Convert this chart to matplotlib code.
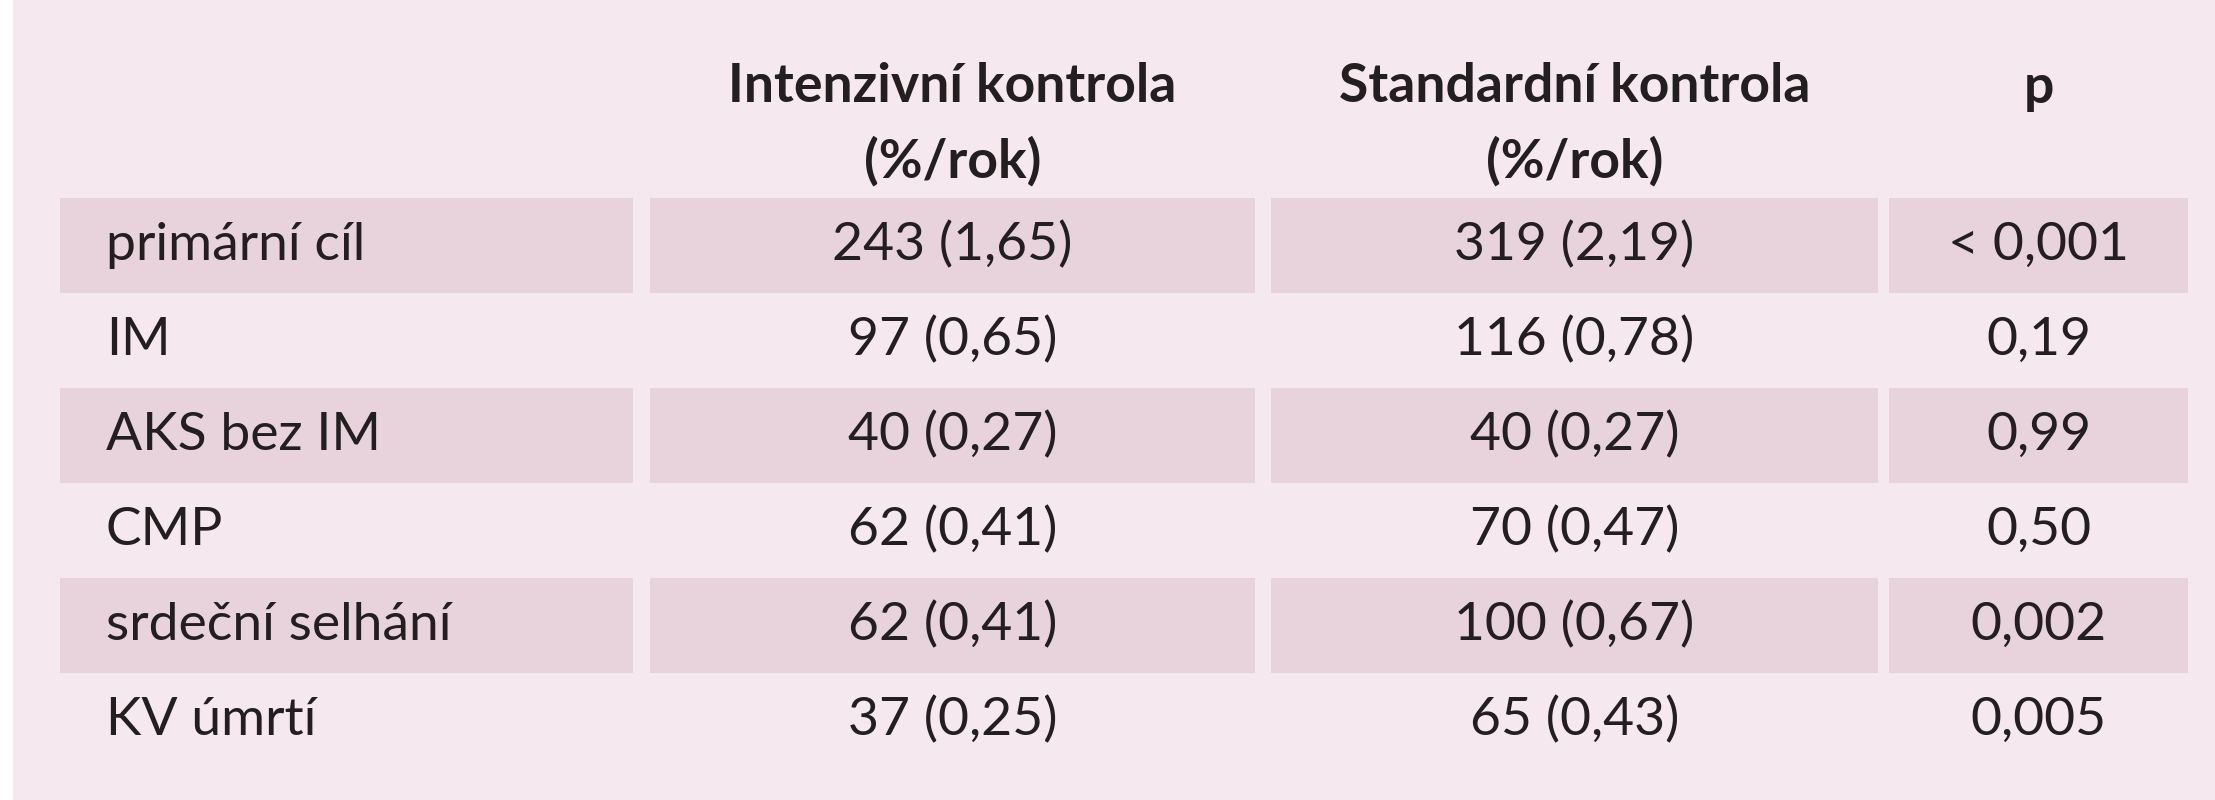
import matplotlib
matplotlib.use("Agg")
import matplotlib.pyplot as plt
from matplotlib.patches import Rectangle

headers = ["", "Intenzivní kontrola\n(%/rok)", "Standardní kontrola\n(%/rok)", "p"]
rows = ["primární cíl", "IM", "AKS bez IM", "CMP", "srdeční selhání", "KV úmrtí"]
intenzivni = ["243 (1,65)", "97 (0,65)", "40 (0,27)", "62 (0,41)", "62 (0,41)", "37 (0,25)"]
standardni = ["319 (2,19)", "116 (0,78)", "40 (0,27)", "70 (0,47)", "100 (0,67)", "65 (0,43)"]
p_values = ["< 0,001", "0,19", "0,99", "0,50", "0,002", "0,005"]

BG = "#f5e8ee"
SHADE = "#e8d3dc"
TXT = "#231f20"
FONT = ["Lato", "DejaVu Sans"]

fig = plt.figure(figsize=(22.15, 8.0), dpi=100)
fig.patch.set_facecolor("white")
ax = fig.add_axes([0, 0, 1, 1])
ax.set_xlim(0, 2215)
ax.set_ylim(800, 0)
ax.axis("off")

ax.add_patch(Rectangle((13, 0), 2215 - 13, 800, color=BG, lw=0))

cols = [(60, 633), (650, 1255), (1271, 1878), (1889, 2188)]
row_top = 198
row_h = 95
fs = 38.5

# header
for j, h in enumerate(headers):
    if not h:
        continue
    cx = (cols[j][0] + cols[j][1]) / 2
    lines = h.split("\n")
    ax.text(cx, 87, lines[0], ha="center", va="center", fontsize=fs,
            fontweight="bold", color=TXT, family=FONT)
    if len(lines) > 1:
        ax.text(cx, 161, lines[1], ha="center", va="center", fontsize=fs,
                fontweight="bold", color=TXT, family=FONT)

for i, name in enumerate(rows):
    y0 = row_top + i * row_h
    yc = y0 + row_h / 2
    if i % 2 == 0:
        for (a, b) in cols:
            ax.add_patch(Rectangle((a, y0), b - a, row_h, color=SHADE, lw=0))
    ax.text(106, yc, name, ha="left", va="center", fontsize=fs, color=TXT, family=FONT)
    for j, val in zip([1, 2, 3], [intenzivni[i], standardni[i], p_values[i]]):
        cx = (cols[j][0] + cols[j][1]) / 2
        ax.text(cx, yc, val, ha="center", va="center", fontsize=fs, color=TXT, family=FONT)

fig.savefig("out.png", dpi=100, facecolor=fig.get_facecolor())
